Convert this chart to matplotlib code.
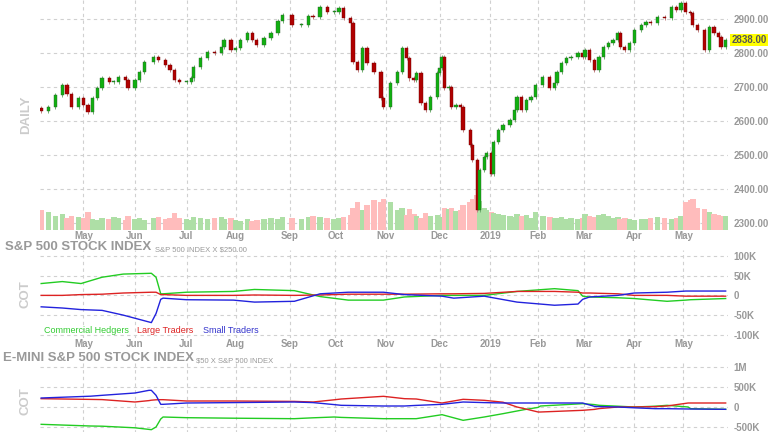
import numpy as np
import matplotlib.pyplot as plt

plt.rcParams['font.family'] = 'Liberation Sans'

# ── Data (x = trading-day index) ─────────────────────────────
day = [0, 3, 6, 9, 11, 13, 16, 18, 20, 22, 24, 26, 29, 31, 33, 36, 37, 40, 42, 44,
       48, 50, 53, 55, 57, 59, 62, 64, 65, 68, 71, 74, 77, 78, 81, 83, 85, 88, 90, 92,
       95, 98, 101, 103, 107, 111, 114, 116, 119, 122, 125, 127, 129, 132, 133, 135, 137, 139, 142, 145,
       146, 149, 152, 154, 156, 157, 159, 160, 162, 164, 166, 169, 170, 171, 172, 174, 175, 177, 179, 180,
       183, 184, 186, 187, 189, 190, 192, 193, 195, 197, 200, 202, 203, 205, 207, 209, 211, 214, 217, 219,
       220, 222, 224, 226, 229, 231, 232, 234, 236, 238, 240, 242, 244, 246, 247, 249, 251, 253, 256, 258,
       260, 263, 266, 269, 271, 273, 275, 277, 278, 280, 283, 285, 287, 289, 290, 292]
close = [2630, 2640, 2676, 2705, 2680, 2640, 2667, 2646, 2626, 2667, 2696, 2725, 2715, 2715, 2728, 2720, 2696, 2720, 2744, 2773,
         2787, 2779, 2764, 2750, 2720, 2715, 2715, 2725, 2760, 2785, 2803, 2800, 2818, 2838, 2809, 2815, 2838, 2858, 2838, 2823,
         2844, 2858, 2895, 2912, 2882, 2882, 2910, 2906, 2935, 2921, 2921, 2932, 2903, 2888, 2773, 2750, 2815, 2770, 2745, 2667,
         2640, 2711, 2744, 2815, 2785, 2725, 2720, 2740, 2652, 2632, 2670, 2740, 2755, 2788, 2696, 2700, 2640, 2646, 2640, 2573,
         2528, 2484, 2337, 2455, 2493, 2505, 2445, 2538, 2573, 2587, 2602, 2632, 2670, 2632, 2661, 2670, 2705, 2728, 2696, 2711,
         2744, 2770, 2785, 2788, 2800, 2788, 2809, 2779, 2750, 2788, 2818, 2829, 2838, 2858, 2818, 2809, 2829, 2867, 2882, 2891,
         2888, 2906, 2903, 2935, 2926, 2947, 2921, 2918, 2882, 2867, 2809, 2876, 2858, 2847, 2818, 2838]
volume = [20, 18, 14, 16, 12, 14, 13, 12, 18, 11, 10, 12, 11, 13, 12, 10, 14, 11, 12, 10,
          12, 13, 11, 12, 17, 12, 11, 10, 13, 12, 11, 12, 13, 11, 12, 10, 9, 11, 9, 10,
          11, 12, 11, 13, 12, 11, 13, 14, 13, 12, 11, 12, 13, 15, 22, 27, 20, 25, 29, 27,
          30, 27, 20, 22, 15, 21, 16, 14, 12, 17, 14, 15, 13, 11, 22, 21, 22, 19, 20, 25,
          27, 30, 34, 28, 22, 20, 18, 17, 16, 15, 14, 13, 16, 14, 15, 12, 18, 14, 13, 12,
          12, 13, 11, 12, 11, 12, 16, 14, 13, 15, 16, 14, 12, 13, 11, 12, 11, 10, 11, 11,
          12, 13, 12, 11, 12, 14, 27, 29, 30, 22, 21, 18, 16, 15, 14, 14]
last_price = 2838.00

# COT - S&P 500 big contract (thousands)
cot1_day = [0, 9, 17, 26, 35, 47, 49, 51, 52, 62, 82, 91, 108, 119, 131, 146,
            155, 171, 176, 189, 203, 219, 229, 231, 234, 246, 253, 267, 275, 277, 292]
cot1_comm = [30, 35, 30, 46, 54, 56, 46, 4, 4, 8, 10, 15, 12, -3, -12, -12,
             -4, 0, 0, 0, 10, 17, 12, -2, -4, -6, -8, -15, -12, -11, -8]
cot1_large = [0, 0, 2, 3, 6, 8, 8, 2, 2, 0, 0, 1, 0, 1, 3, 3,
              3, 4, 4, 5, 10, 10, 8, 6, 6, 4, 0, 0, -2, -2, -2]
cot1_small = [-29, -32, -36, -38, -50, -69, -46, -10, -7, -11, -12, -17, -15, 4, 8, 8,
              2, -2, -7, -2, -17, -25, -22, -10, -4, 0, 6, 8, 11, 11, 11]

# COT - E-mini S&P 500 (thousands)
cot2_day = [0, 21, 26, 40, 46, 47, 49, 51, 52, 62, 82, 108, 116, 125, 128, 146,
            155, 160, 171, 180, 189, 197, 203, 206, 212, 213, 231, 236, 238, 246, 253, 262, 267, 276, 277, 292]
cot2_comm = [-433, -475, -480, -520, -560, -567, -500, -300, -250, -267, -280, -292, -270, -250, -260, -292,
             -292, -292, -192, -333, -250, -167, -100, -67, -10, 25, 83, 60, 42, 20, 0, 20, 42, 0, -42, -58]
cot2_large = [208, 190, 185, 125, 160, 170, 180, 183, 183, 150, 150, 140, 125, 180, 200, 267,
              208, 200, 100, 192, 167, 120, 0, -40, -125, -125, -83, -60, -40, 0, 0, 10, 25, 100, 100, 100]
cot2_small = [225, 270, 292, 350, 417, 417, 292, 67, 67, 100, 110, 125, 110, 60, 42, 25,
              25, 40, 67, 125, 110, 100, 100, 100, 100, 100, 100, 17, 10, 0, -20, -42, -42, -50, -50, -58]

month_day = [18, 40, 62, 83, 106, 125.5, 147, 170, 191.5, 212, 231.5, 253, 274]
month_lbl = ['May', 'Jun', 'Jul', 'Aug', 'Sep', 'Oct', 'Nov', 'Dec', '2019', 'Feb', 'Mar', 'Apr', 'May']

# ── Figure ────────────────────────────────────────
W, H = 768, 432
fig = plt.figure(figsize=(7.68, 4.32), dpi=100)
GRAY = '#999999'
GRID = dict(color='#d0d0d0', linestyle=(0, (3, 3)), linewidth=0.8)


def px_axes(top, bottom):
    return fig.add_axes([40 / W, (H - bottom) / H, 688 / W, (bottom - top) / H])


def style(ax, yticks, ylabels, side_lbl):
    for s in ax.spines.values():
        s.set_visible(False)
    ax.set_xlim(-0.5, 293)
    ax.set_xticks(month_day)
    ax.set_xticklabels(month_lbl)
    ax.set_yticks(yticks)
    ax.set_yticklabels(ylabels)
    ax.yaxis.tick_right()
    ax.tick_params(length=0, labelsize=7, labelcolor=GRAY, pad=4)
    for t in ax.get_xticklabels() + ax.get_yticklabels():
        t.set_fontweight('bold')
    ax.tick_params(axis='x', pad=1)
    ax.grid(True, **GRID)
    ax.set_axisbelow(True)
    ax.set_ylabel(side_lbl, color='#cccccc', fontsize=9.5, fontweight='bold', labelpad=6)
    ax.yaxis.set_label_position('left')


# ── Price panel ───────────────────────────────────
ax1 = px_axes(0, 230)
ax1.set_ylim(2279, 2956)
style(ax1, [2300, 2400, 2500, 2600, 2700, 2800, 2900],
      ['%d.00' % v for v in [2300, 2400, 2500, 2600, 2700, 2800, 2900]], 'DAILY')

opens = [close[0] + 8] + close[:-1]
for i in range(len(day)):
    o, c = opens[i], close[i]
    up = c >= o
    ax1.bar(day[i], volume[i] * 3, bottom=2279, width=2.3,
            color='#aedfa6' if up else '#ffbcbc', zorder=1)
    ax1.vlines(day[i], min(o, c) - 6, max(o, c) + 6, color='#c08080' if not up else '#70b070',
               linewidth=0.7, zorder=2)
    ax1.bar(day[i], max(abs(c - o), 2), bottom=min(o, c), width=1.4,
            color='#10b010' if up else '#b00000', edgecolor='#306030' if up else '#700000',
            linewidth=0.3, zorder=3)

ax1.text(1.005, (last_price - 2279) / (2956 - 2279), '%.2f' % last_price, transform=ax1.transAxes,
         fontsize=7, fontweight='bold', color='#555555', va='center', ha='left',
         bbox=dict(facecolor='#ffff00', edgecolor='none', pad=1))

# ── COT panel 1 ───────────────────────────────────
fig.text(5 / W, 1 - 247 / H, 'S&P 500 STOCK INDEX', fontsize=9.5, fontweight='bold',
         color='#999999', va='center')
fig.text(155 / W, 1 - 250 / H, 'S&P 500 INDEX X $250.00', fontsize=5.5, color='#999999', va='center')

ax2 = px_axes(250, 338)
ax2.set_ylim(-108, 115)
style(ax2, [-100, -50, 0, 50, 100], ['-100K', '-50K', '0', '50K', '100K'], 'COT')
ax2.plot(cot1_day, cot1_comm, color='#22cc22', lw=1)
ax2.plot(cot1_day, cot1_large, color='#dd2222', lw=1)
ax2.plot(cot1_day, cot1_small, color='#2222dd', lw=1)
ax2.text(1, -88, 'Commercial Hedgers', color='#33cc33', fontsize=6.5, va='center')
ax2.text(41, -88, 'Large Traders', color='#dd2222', fontsize=6.5, va='center')
ax2.text(69, -88, 'Small Traders', color='#3333cc', fontsize=6.5, va='center')

# ── COT panel 2 ───────────────────────────────────
fig.text(3 / W, 1 - 358 / H, 'E-MINI S&P 500 STOCK INDEX', fontsize=9.5, fontweight='bold',
         color='#999999', va='center')
fig.text(196 / W, 1 - 361 / H, '$50 X S&P 500 INDEX', fontsize=5.5, color='#999999', va='center')

ax3 = px_axes(362, 440)
ax3.set_ylim(-825, 1125)
style(ax3, [-500, 0, 500, 1000], ['-500K', '0', '500K', '1M'], 'COT')
ax3.set_xticklabels([])
ax3.plot(cot2_day, cot2_comm, color='#22cc22', lw=1)
ax3.plot(cot2_day, cot2_large, color='#dd2222', lw=1)
ax3.plot(cot2_day, cot2_small, color='#2222dd', lw=1)

fig.savefig('out.png', dpi=100)
